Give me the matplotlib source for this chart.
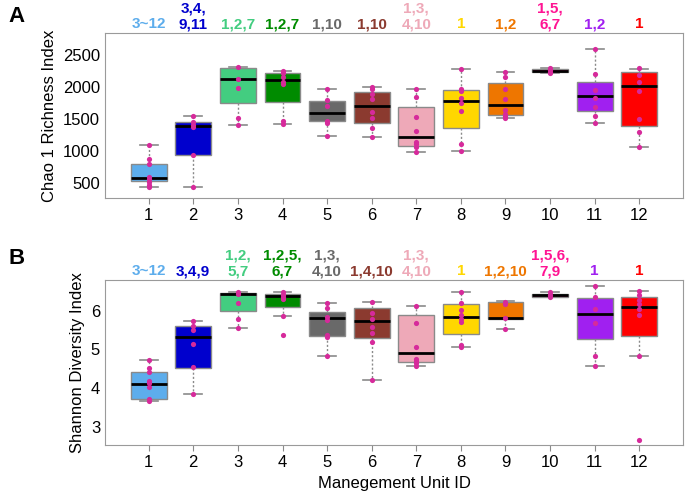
import matplotlib
matplotlib.use("Agg")
import matplotlib.pyplot as plt
from matplotlib.transforms import blended_transform_factory

plt.rcParams['font.family'] = ['Liberation Sans', 'DejaVu Sans']

units = list(range(1, 13))
box_colors = ["#5DADEC", "#0000CD", "#43CD80", "#008B00", "#696969", "#8B3A2F",
              "#EEA9B8", "#FFD700", "#EE7600", "#FF1493", "#A020F0", "#FF0000"]
point_color = "#D62A9B"

# Chao 1 richness: whisker low, Q1, median, Q3, whisker high
chao_lo = [437, 437, 1409, 1419, 1231, 1215, 975, 996, 1508, 2213, 1430, 1059]
chao_q1 = [526, 928, 1743, 1758, 1461, 1430, 1080, 1362, 1560, 2239, 1617, 1393]
chao_med = [568, 1388, 2119, 2108, 1597, 1701, 1221, 1779, 1717, 2255, 1852, 2009]
chao_q3 = [792, 1450, 2291, 2223, 1785, 1915, 1691, 1946, 2056, 2276, 2082, 2229]
chao_hi = [1090, 1550, 2307, 2249, 1962, 2000, 1962, 2275, 2239, 2302, 2594, 2281]
chao_pts = [
    [1090, 870, 792, 594, 560, 516, 463, 437],
    [1550, 1450, 1408, 1377, 928, 437],
    [2307, 2119, 1978, 1518, 1409],
    [2249, 2213, 2150, 2082, 2046, 1461, 1419],
    [1962, 1795, 1701, 1471, 1440, 1231],
    [2000, 1967, 1884, 1811, 1607, 1513, 1362, 1215],
    [1962, 1847, 1534, 1309, 1137, 1106, 1064, 975],
    [2275, 1967, 1936, 1832, 1743, 1623, 1106, 996],
    [2239, 2150, 1962, 1811, 1638, 1576, 1544, 1508],
    [2290, 2265, 2240, 2225],
    [2594, 2208, 1957, 1832, 1691, 1544, 1430],
    [2291, 2187, 2082, 1941, 1497, 1289, 1059],
]
chao_letters = ["3~12", "3,4,\n9,11", "1,2,7", "1,2,7", "1,10", "1,10",
                "1,3,\n4,10", "1", "1,2", "1,5,\n6,7", "1,2", "1"]

# Shannon diversity
shan_lo = [3.66, 3.85, 5.56, 5.87, 4.83, 4.21, 4.57, 5.05, 5.52, 6.34, 4.56, 4.84]
shan_q1 = [3.72, 4.53, 5.98, 6.10, 5.34, 5.30, 4.68, 5.39, 5.79, 6.36, 5.27, 5.35]
shan_med = [4.10, 5.31, 6.43, 6.38, 5.82, 5.72, 4.90, 5.83, 5.82, 6.39, 5.91, 6.09]
shan_q3 = [4.42, 5.59, 6.45, 6.42, 5.96, 6.08, 5.88, 6.16, 6.21, 6.43, 6.33, 6.34]
shan_hi = [4.72, 5.74, 6.47, 6.47, 6.19, 6.23, 6.11, 6.48, 6.25, 6.49, 6.63, 6.50]
shan_pts = [
    [4.72, 4.53, 4.42, 4.19, 4.12, 4.03, 3.72, 3.66],
    [5.74, 5.59, 5.50, 5.14, 4.55, 3.85],
    [6.48, 6.43, 6.19, 5.78, 5.56],
    [6.47, 6.41, 6.34, 6.29, 5.87, 5.37],
    [6.19, 6.07, 5.84, 5.76, 5.37, 5.31, 4.83],
    [6.23, 5.94, 5.79, 5.57, 5.41, 5.19, 4.21],
    [6.11, 5.67, 5.05, 4.75, 4.71, 4.64, 4.57],
    [6.48, 6.20, 6.01, 5.88, 5.78, 5.70, 5.11, 5.05],
    [6.23, 6.16, 5.82, 5.52],
    [6.49, 6.39, 6.35],
    [6.63, 6.34, 6.03, 5.69, 4.84, 4.56],
    [6.50, 6.39, 6.28, 6.16, 6.04, 5.88, 4.84, 2.66],
]
shan_letters = ["3~12", "3,4,9", "1,2,\n5,7", "1,2,5,\n6,7", "1,3,\n4,10", "1,4,10",
                "1,3,\n4,10", "1", "1,2,10", "1,5,6,\n7,9", "1", "1"]


def draw_panel(ax, lo, q1, med, q3, hi, pts, letters, ylim, yticks, ylabel):
    stats = []
    for i in range(len(units)):
        stats.append({"whislo": lo[i], "q1": q1[i], "med": med[i],
                      "q3": q3[i], "whishi": hi[i], "fliers": []})
    bp = ax.bxp(stats, positions=units, widths=0.8, patch_artist=True,
                showfliers=False,
                boxprops=dict(edgecolor="#8a8a8a", linewidth=1),
                medianprops=dict(color="black", linewidth=2),
                whiskerprops=dict(color="#8a8a8a", linestyle=(0, (1.5, 1.5)), linewidth=1),
                capprops=dict(color="#8a8a8a", linewidth=1.2),
                capwidths=0.4)
    for patch, c in zip(bp["boxes"], box_colors):
        patch.set_facecolor(c)
    for x, p in zip(units, pts):
        ax.scatter([x] * len(p), p, s=14, color=point_color, zorder=5, linewidths=0)
    trans = blended_transform_factory(ax.transData, ax.transAxes)
    for x, t, c in zip(units, letters, box_colors):
        ax.text(x, 1.01, t, transform=trans, ha="center", va="bottom",
                color=c, fontsize=11, fontweight="bold", linespacing=1.15)
    ax.set_xlim(0.02, 12.98)
    ax.set_ylim(*ylim)
    ax.set_yticks(yticks)
    ax.set_xticks(units)
    ax.set_xticklabels([str(u) for u in units])
    ax.tick_params(labelsize=12, color="#8a8a8a", length=4)
    ax.tick_params(axis="y", length=0)
    for s in ax.spines.values():
        s.set_color("#9a9a9a")
    ax.set_ylabel(ylabel, fontsize=12)


fig = plt.figure(figsize=(6.85, 4.93), dpi=100)
axA = fig.add_axes([105 / 685, 1 - 198 / 493, 578 / 685, 165 / 493])
axB = fig.add_axes([105 / 685, 1 - 445 / 493, 578 / 685, 165 / 493])

draw_panel(axA, chao_lo, chao_q1, chao_med, chao_q3, chao_hi, chao_pts, chao_letters,
           (260, 2845), [500, 1000, 1500, 2000, 2500], "Chao 1 Richness Index")
draw_panel(axB, shan_lo, shan_q1, shan_med, shan_q3, shan_hi, shan_pts, shan_letters,
           (2.53, 6.79), [3, 4, 5, 6], "Shannon Diversity Index")
axB.set_xlabel("Manegement Unit ID", fontsize=12)

fig.text(8 / 685, 1 - 16 / 493, "A", fontsize=16, fontweight="bold", va="center")
fig.text(8 / 685, 1 - 258 / 493, "B", fontsize=16, fontweight="bold", va="center")

fig.savefig("out.png", dpi=100)
